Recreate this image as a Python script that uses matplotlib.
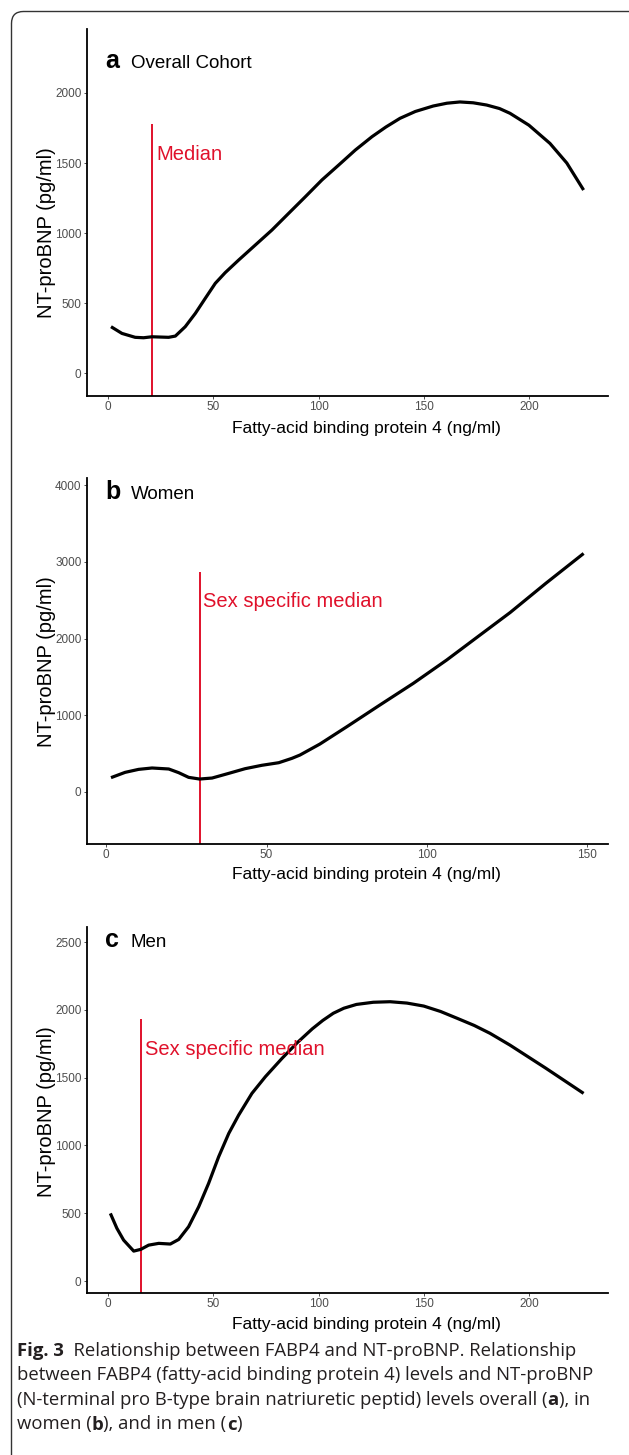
import matplotlib.pyplot as plt
from matplotlib.patches import FancyBboxPatch
from matplotlib.transforms import IdentityTransform

plt.rcParams['font.family'] = ['Liberation Sans', 'DejaVu Sans']

W, H = 629, 1455

# a - overall cohort
fabp4_all = [1.3, 6.5, 12.8, 16.8, 20.8, 24.7, 28.7, 31.9, 36.6, 41.4, 46.1, 50.9,
             55.6, 62.0, 69.9, 77.8, 85.8, 93.7, 101.6, 109.6, 117.5, 125.4, 132.0,
             138.7, 146.0, 154.5, 161.0, 167.2, 173.5, 179.9, 186.0, 191.0, 200.0,
             210.0, 218.0, 226.0]
ntprobnp_all = [331, 283, 255, 252, 259, 257, 255, 264, 331, 426, 533, 641,
                717, 807, 914, 1021, 1141, 1259, 1379, 1486, 1593, 1688, 1757,
                1819, 1868, 1907, 1927, 1936, 1930, 1914, 1889, 1855, 1770,
                1640, 1500, 1307]
median_all = 21.0

# b - women
fabp4_women = [1.5, 5.9, 10.1, 14.3, 19.5, 22.6, 25.7, 29.1, 33.0, 38.2, 43.3, 48.5,
               53.8, 57.9, 60.4, 66.6, 75.0, 85.3, 95.7, 106.1, 116.5, 125.9, 137.0, 148.8]
ntprobnp_women = [187, 256, 295, 313, 300, 252, 191, 169, 182, 243, 304, 348,
                  382, 439, 482, 625, 851, 1134, 1416, 1720, 2046, 2340, 2720, 3110]
median_women = 29.1

# c - men
fabp4_men = [1.0, 4.1, 7.3, 12.1, 15.5, 19.2, 24.0, 29.5, 33.5, 38.2, 43.0, 47.7,
             52.5, 57.3, 62.0, 68.3, 74.7, 82.6, 90.0, 97.0, 102.0, 107.0, 112.0,
             118.0, 126.0, 134.0, 142.0, 150.0, 158.0, 166.0, 174.0, 181.5, 191.0,
             208.0, 226.0]
ntprobnp_men = [499, 389, 302, 221, 234, 265, 278, 273, 307, 401, 548, 720,
                917, 1089, 1224, 1384, 1507, 1642, 1760, 1860, 1922, 1975, 2012,
                2040, 2056, 2060, 2050, 2028, 1988, 1937, 1885, 1827, 1740,
                1570, 1384]
median_men = 15.6

red = '#e0112b'

def fx(px):
    return px / W

def fy(py):
    return 1 - py / H

fig = plt.figure(figsize=(W / 100, H / 100), dpi=100)

# letter, title, x, y, median, median label, line top, label y, xlim, ylim, xticks, yticks, top px, bottom px, ylabel px
panels = [
    ('a', 'Overall Cohort', fabp4_all, ntprobnp_all, median_all, 'Median', 1779, 1564,
     (-10.3, 237.6), (-164, 2457), [0, 50, 100, 150, 200], [0, 500, 1000, 1500, 2000],
     29, 396, 233, 428, 62),
    ('b', 'Women', fabp4_women, ntprobnp_women, median_women, 'Sex specific median', 2868, 2481,
     (-6.1, 156.4), (-678, 4094), [0, 50, 100, 150], [0, 1000, 2000, 3000, 4000],
     478, 844, 662, 874, 493),
    ('c', 'Men', fabp4_men, ntprobnp_men, median_men, 'Sex specific median', 1932, 1711,
     (-10.3, 237.6), (-88, 2611), [0, 50, 100, 150, 200], [0, 500, 1000, 1500, 2000, 2500],
     927, 1293, 1112, 1325, 941),
]

for (letter, title, xs, ys, med, med_label, med_top, med_y, xlim, ylim,
     xt, yt, top, bottom, ylab_y, xlab_y, title_y) in panels:
    ax = fig.add_axes([fx(86.6), fy(bottom), (608 - 86.6) / W, (bottom - top) / H])
    ax.plot(xs, ys, color='black', lw=2.3, solid_capstyle='butt',
            solid_joinstyle='round', zorder=3)
    ax.vlines(med, ylim[0], med_top, color=red, lw=1.4, zorder=2)
    ax.annotate(med_label, xy=(med, med_y), xytext=(2.5, 0), textcoords='offset points',
                color=red, fontsize=14.5, va='center', ha='left')
    ax.set_xlim(*xlim)
    ax.set_ylim(*ylim)
    ax.set_xticks(xt)
    ax.set_yticks(yt)
    for s in ['top', 'right']:
        ax.spines[s].set_visible(False)
    for s in ['left', 'bottom']:
        ax.spines[s].set_linewidth(1.3)
        ax.spines[s].set_color('black')
    ax.tick_params(length=2.2, width=0.6, color='#333333', labelsize=8.5,
                   labelcolor='#4d4d4d', pad=1.5)
    ax.patch.set_alpha(0)

    fig.text(fx(47), fy(ylab_y), 'NT-proBNP (pg/ml)', rotation=90, fontsize=14.5,
             ha='center', va='center')
    fig.text(fx(366), fy(xlab_y), 'Fatty-acid binding protein 4 (ng/ml)', fontsize=12.5,
             ha='center', va='center')
    fig.text(fx(105), fy(title_y + 6), letter, fontsize=18, fontweight='bold',
             ha='left', va='baseline')
    fig.text(fx(131), fy(title_y + 6), title, fontsize=13.5, ha='left', va='baseline')

# caption
renderer = fig.canvas.get_renderer()

def rich_line(x, y, parts):
    for s, bold in parts:
        t = fig.text(fx(x), fy(y), s, fontsize=13.3, family=['Open Sans', 'DejaVu Sans'],
                     fontweight='bold' if bold else 'normal', va='baseline', ha='left',
                     color='#231f20')
        x += t.get_window_extent(renderer=renderer).width

caption = [
    [('Fig. 3', True), ('  Relationship between FABP4 and NT-proBNP. Relationship', False)],
    [('between FABP4 (fatty-acid binding protein 4) levels and NT-proBNP', False)],
    [('(N-terminal pro B-type brain natriuretic peptid) levels overall (', False), ('a', True),
     ('), in', False)],
    [('women (', False), ('b', True), ('), and in men (', False), ('c', True), (')', False)],
]
for i, parts in enumerate(caption):
    rich_line(17, 1356 + 24.5 * i, parts)

border = FancyBboxPatch((11.5, -60), 700, H - 11.5 + 60,
                        boxstyle='round,pad=0,rounding_size=12',
                        transform=IdentityTransform(), fill=False, lw=1.0, ec='#333333')
fig.add_artist(border)

fig.savefig('out.png', dpi=100)
